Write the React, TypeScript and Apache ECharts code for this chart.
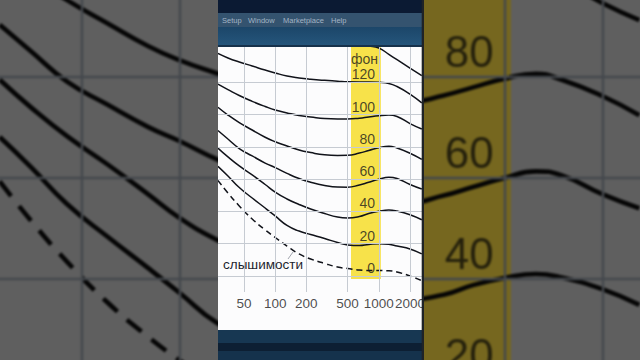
import React, { useEffect, useRef } from 'react';
import * as echarts from 'echarts';

// ---------- data ----------
const FREQS = [28, 35, 45, 60, 80, 100, 130, 170, 220, 300, 400, 500, 650, 800, 1000, 1250, 1500, 2000, 2600];
const PHON_TOP = [160, 157, 154, 151.5, 149.5, 148, 146.5, 145.5, 144.8, 144.2, 143.8, 143.5, 143.2, 142.6, 141.4, 137.4, 134.1, 128.9, 124.2];
const PHON_120 = [138.0, 135.2, 132.7, 130.2, 127.7, 125.9, 124.0, 122.8, 122.0, 121.3, 120.8, 120.4, 120.3, 120.3, 120.1, 119.4, 117.5, 112.8, 107.3];
const PHON_100 = [119.0, 115.6, 111.9, 108.3, 105.1, 102.9, 101.1, 99.5, 98.6, 97.6, 97.3, 97.3, 97.8, 98.6, 99.4, 99.8, 98.9, 94.5, 91.1];
const PHON_80 = [104.6, 99.8, 95.1, 90.5, 86.0, 83.2, 80.6, 78.1, 76.5, 75.1, 74.7, 74.8, 76.2, 77.8, 79.5, 80.5, 79.3, 76.1, 72.3];
const PHON_60 = [90.2, 84.9, 79.0, 74.4, 70.0, 67.2, 63.6, 60.4, 58.1, 56.1, 55.1, 55.0, 56.4, 58.1, 59.9, 61.2, 60.4, 56.7, 53.9];
const PHON_40 = [79.3, 73.8, 68.2, 62.6, 56.7, 52.0, 47.7, 44.3, 41.5, 38.7, 36.5, 35.9, 36.8, 38.7, 40.1, 40.9, 40.2, 37.9, 34.8];
const PHON_20 = [68.0, 62.0, 54.8, 48.3, 42.1, 37.2, 31.3, 27.8, 25.7, 23.2, 20.7, 19.2, 18.8, 19.5, 20.0, 19.6, 18.5, 16.7, 13.6];
const THRESHOLD = [59.2, 51.4, 43.4, 35.3, 28.5, 23.8, 18.5, 13.6, 10.5, 7.7, 5.5, 4.6, 3.6, 3.3, 3.3, 3.2, 2.4, -0.1, -3.0];

const X_TICKS = [50, 100, 200, 500, 1000, 2000];
const Y_GRID = [0, 20, 40, 60, 80, 100, 120];
const LEVEL_LABELS = [120, 100, 80, 60, 40, 20, 0];
const BAND = [539, 1047];
const BAND_BOTTOM = -2;
const UNIT_LABEL = 'фон';
const THRESHOLD_LABEL = 'слышимости';
const MENU = ['Setup', 'Window', 'Marketplace', 'Help'];

// ---------- geometry of the frame ----------
const FONT = "'Liberation Sans', Arial, Helvetica, sans-serif";
const X50 = 244; // screen x of 50 Hz
const PX_DEC = 103.6; // px per decade
const PLOT_TOP = 47;
const PLOT_H = 245;
const Y_MIN = -10;
const Y_MAX = 142;
const fAt = (x: number) => 50 * Math.pow(10, (x - X50) / PX_DEC);
const dbAt = (y: number) => Y_MAX - ((y - PLOT_TOP) / PLOT_H) * (Y_MAX - Y_MIN);
const PANEL_L = 218;
const PANEL_R = 422;
const LABEL_F = fAt(375.5);
const S = 640 / (PANEL_R - PANEL_L);
const M = 16;
const toCx = (xs: number) => 320 + (xs - 320) / S;
const toCy = (ys: number) => 180 + (ys - 180) / S;

type Layer = {
  k: number;
  xMin: number; xMax: number; yMin: number; yMax: number;
  grid: any;
  bg: string; gridColor: string; gridWidth: number;
  band: string;
  ink: string; lineWidth: number; labelInk: string;
  labels: number[];
};

function buildSeries(L: Layer) {
  const k = L.k;
  const curve = (vals: number[], dashed = false) => ({
    type: 'line',
    data: FREQS.map((f, i) => [f, vals[i]]),
    smooth: 0.5,
    symbol: 'none',
    silent: true,
    clip: true,
    z: 4,
    lineStyle: { color: L.ink, width: L.lineWidth, type: dashed ? [6 * k, 4 * k] : 'solid', cap: 'butt' },
    emphasis: { disabled: true },
  });
  const labelData: any[] = L.labels.map((l) => ({ value: [LABEL_F, l], name: String(l) }));
  if (L.k === 1) {
    labelData.push({ value: [LABEL_F, LEVEL_LABELS[0]], name: UNIT_LABEL, label: { offset: [3 * k, -23.5 * k] } });
  }
  return [
    {
      type: 'line', data: [], z: 1, silent: true,
      markLine: {
        silent: true, symbol: ['none', 'none'], label: { show: false }, animation: false,
        lineStyle: { color: L.gridColor, width: L.gridWidth, type: 'solid', opacity: 1 },
        emphasis: { disabled: true },
        data: [...X_TICKS.map((f) => ({ xAxis: f })), ...Y_GRID.map((v) => ({ yAxis: v }))],
      },
    },
    {
      type: 'line', data: [], z: 2, silent: true,
      markArea: {
        silent: true, animation: false,
        itemStyle: { color: L.band, opacity: 1 },
        emphasis: { disabled: true },
        data: [[{ xAxis: BAND[0], yAxis: BAND_BOTTOM }, { xAxis: BAND[1], yAxis: Y_MAX }]],
      },
    },
    curve(PHON_TOP),
    curve(PHON_120),
    curve(PHON_100),
    curve(PHON_80),
    curve(PHON_60),
    curve(PHON_40),
    curve(PHON_20),
    curve(THRESHOLD, true),
    {
      type: 'scatter', z: 5, symbolSize: 1, silent: true, clip: false,
      itemStyle: { color: 'rgba(0,0,0,0)' },
      emphasis: { disabled: true },
      data: labelData,
      label: {
        show: true, position: 'left', distance: 0, offset: [0, -8 * k],
        formatter: (p: any) => p.name, color: L.labelInk, fontSize: 14 * k, fontFamily: FONT,
      },
    },
  ];
}

function baseOption(L: Layer) {
  return {
    animation: false,
    darkMode: false,
    backgroundColor: L.bg,
    grid: L.grid,
    xAxis: { type: 'log', logBase: 10, min: L.xMin, max: L.xMax, show: false },
    yAxis: { type: 'value', min: L.yMin, max: L.yMax, show: false },
    series: buildSeries(L) as any[],
  };
}

function centerOption() {
  const L: Layer = {
    k: 1, xMin: fAt(PANEL_L), xMax: fAt(PANEL_R), yMin: Y_MIN, yMax: Y_MAX,
    grid: { left: 0, top: PLOT_TOP, width: PANEL_R - PANEL_L, height: PLOT_H },
    bg: '#fcfcfd', gridColor: '#c6cbd2', gridWidth: 1,
    band: '#f7e24a',
    ink: '#11131a', lineWidth: 1.5, labelInk: '#1b1b1b',
    labels: LEVEL_LABELS,
  };
  const opt: any = baseOption(L);
  opt.series.push({
    type: 'scatter', z: 5, symbolSize: 1, silent: true, clip: false,
    itemStyle: { color: 'rgba(0,0,0,0)' },
    data: X_TICKS.map((f) => ({ value: [f, Y_MIN], name: String(f) })),
    label: {
      show: true, position: 'inside', offset: [0, 11], formatter: (p: any) => p.name,
      fontSize: 13.5, color: '#1b1b1b', fontFamily: FONT,
    },
  });
  const menuX = [4, 30, 65, 113];
  opt.graphic = [
    { type: 'rect', z: 100, silent: true, shape: { x: 0, y: 0, width: 206, height: 13 }, style: { fill: '#0b1a33' } },
    { type: 'rect', z: 100, silent: true, shape: { x: 0, y: 13, width: 206, height: 14 }, style: { fill: '#34536f' } },
    {
      type: 'rect', z: 100, silent: true, shape: { x: 0, y: 27, width: 206, height: 18 },
      style: { fill: new echarts.graphic.LinearGradient(0, 0, 0, 1, [{ offset: 0, color: '#1c4669' }, { offset: 1, color: '#25557b' }]) },
    },
    { type: 'rect', z: 100, silent: true, shape: { x: 0, y: 45, width: 206, height: 2 }, style: { fill: '#16314b' } },
    ...MENU.map((t, i) => ({
      type: 'text', z: 101, silent: true,
      style: { text: t, x: menuX[i], y: 20, fill: '#a3b4c5', fontSize: 7.5, fontFamily: FONT, verticalAlign: 'middle' },
    })),
    { type: 'rect', z: 100, silent: true, shape: { x: 0, y: 330, width: 206, height: 13 }, style: { fill: '#173752' } },
    { type: 'rect', z: 100, silent: true, shape: { x: 0, y: 343, width: 206, height: 8 }, style: { fill: '#0d1f33' } },
    { type: 'rect', z: 100, silent: true, shape: { x: 0, y: 351, width: 206, height: 9 }, style: { fill: '#15324c' } },
    { type: 'rect', z: 102, silent: true, shape: { x: 203.7, y: 0, width: 3, height: 360 }, style: { fill: '#1f2327' } },
    {
      type: 'text', z: 101, silent: true,
      style: { text: THRESHOLD_LABEL, x: 5, y: 264, fill: '#1c1f2e', fontSize: 13.5, fontFamily: FONT, verticalAlign: 'middle' },
    },
    { type: 'line', z: 101, silent: true, shape: { x1: 70, y1: 259, x2: 75, y2: 252 }, style: { stroke: '#8a8f99', lineWidth: 0.8 } },
  ];
  return opt;
}

function backgroundOption() {
  const L: Layer = {
    k: S,
    xMin: fAt(toCx(-M)), xMax: fAt(toCx(640 + M)),
    yMin: dbAt(toCy(360 + M)), yMax: dbAt(toCy(-M)),
    grid: { left: 0, top: 0, right: 0, bottom: 0 },
    bg: '#5f5f5f', gridColor: '#44484d', gridWidth: 2.4,
    band: '#76671f',
    ink: '#050505', lineWidth: 4.6, labelInk: '#100f08',
    labels: [80, 60, 40, 20],
  };
  return baseOption(L);
}

export default function App() {
  const bgRef = useRef<HTMLDivElement>(null);
  const fgRef = useRef<HTMLDivElement>(null);
  useEffect(() => {
    document.body.style.margin = '0';
    const bg = echarts.init(bgRef.current!, undefined, { renderer: 'svg' });
    bg.setOption(backgroundOption() as any);
    const fg = echarts.init(fgRef.current!, undefined, { renderer: 'svg' });
    fg.setOption(centerOption() as any);
    return () => {
      bg.dispose();
      fg.dispose();
    };
  }, []);
  return (
    <div style={{ position: 'absolute', left: 0, top: 0, width: 640, height: 360, overflow: 'hidden', background: '#5f5f5f' }}>
      <div
        ref={bgRef}
        style={{ position: 'absolute', left: -M, top: -M, width: 640 + 2 * M, height: 360 + 2 * M, filter: 'blur(1.3px)' }}
      />
      <div ref={fgRef} style={{ position: 'absolute', left: PANEL_L, top: 0, width: 206, height: 360 }} />
    </div>
  );
}
